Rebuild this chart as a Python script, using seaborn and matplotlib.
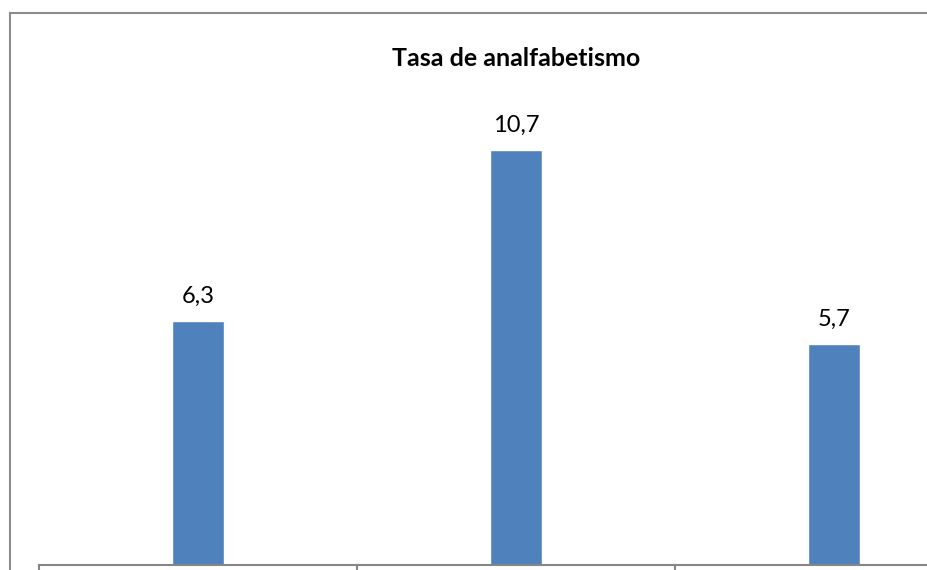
import matplotlib
matplotlib.use("Agg")
import matplotlib.pyplot as plt
from matplotlib.lines import Line2D
import seaborn as sns
import pandas as pd

# values (category labels are cut off in the reference)
categorias = ["A", "B", "C"]
tasas = [6.3, 10.7, 5.7]
etiquetas = ["6,3", "10,7", "5,7"]
titulo = "Tasa de analfabetismo"

sns.set_style("white")
plt.rcParams["font.family"] = ["Lato", "DejaVu Sans"]

df = pd.DataFrame({"cat": categorias, "tasa": tasas})

W, H = 928, 570
fig = plt.figure(figsize=(W / 100, H / 100), dpi=100)
# plot area runs past the right and bottom edges, like the cropped original
ax = fig.add_axes([39 / W, 5 / H, (993 - 39) / W, (565 - 100) / H])

sns.barplot(data=df, x="cat", y="tasa", color="#4F81BD", width=0.164,
            saturation=1, ax=ax)
ax.set_xlim(-0.5, 2.5)
ax.set_ylim(0, 12)

for i, (v, t) in enumerate(zip(tasas, etiquetas)):
    ax.annotate(t, (i, v), xytext=(0, 13), textcoords="offset points",
                ha="center", va="baseline", fontsize=17, color="#000000")

fig.text(516 / W, (H - 66) / H, titulo, ha="center", va="baseline",
         fontsize=18, fontweight="bold", color="#000000")

for s in ["top", "right", "left"]:
    ax.spines[s].set_visible(False)
ax.spines["bottom"].set_color("#868686")
ax.spines["bottom"].set_linewidth(1.5)
ax.set_yticks([])
ax.set_xticks([-0.5, 0.5, 1.5, 2.5])
ax.set_xticklabels([])
ax.tick_params(axis="x", bottom=True, direction="out", length=5, width=1.5,
               color="#868686")
ax.set_xlabel("")
ax.set_ylabel("")

# outer chart border (only top and left edges are visible), one open path
top = (H - 13) / H
fig.add_artist(Line2D([10 / W, 10 / W, 1.05], [-0.05, top, top],
                      transform=fig.transFigure, color="#8C8C8C", linewidth=1.5,
                      solid_joinstyle="miter"))

fig.savefig("out.png", dpi=100)
